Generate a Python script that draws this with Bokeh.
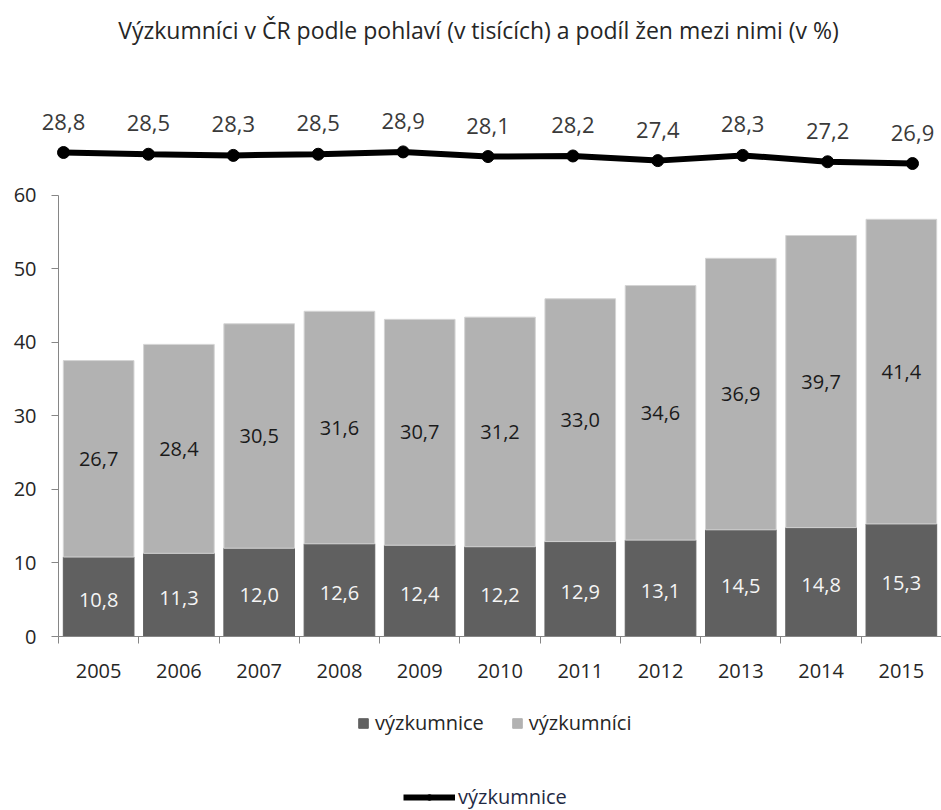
from bokeh.plotting import figure
from bokeh.layouts import column
from bokeh.models import (Range1d, FixedTicker, ColumnDataSource, Legend, LegendItem, Label)
from bokeh.embed import file_html
from bokeh.resources import INLINE
from bokeh.core.properties import value

years = ["2005", "2006", "2007", "2008", "2009", "2010", "2011", "2012", "2013", "2014", "2015"]
women = [10.8, 11.3, 12.0, 12.6, 12.4, 12.2, 12.9, 13.1, 14.5, 14.8, 15.3]
men = [26.7, 28.4, 30.5, 31.6, 30.7, 31.2, 33.0, 34.6, 36.9, 39.7, 41.4]
women_share = [28.8, 28.5, 28.3, 28.5, 28.9, 28.1, 28.2, 27.4, 28.3, 27.2, 26.9]
y_ticks = [0, 10, 20, 30, 40, 50, 60]

title_text = "Výzkumníci v ČR podle pohlaví (v tisících) a podíl žen mezi nimi (v %)"
legend_bar_labels = ["výzkumnice", "výzkumníci"]
legend_line_label = "výzkumnice"

def fmt(v):
    return f"{v:.1f}".replace(".", ",")

n = len(years)
pos = [i + 1 for i in range(n)]
line_pos = list(range(n))

DARK = "#606060"
LIGHT = "#B2B2B2"
FONT = "Open Sans"
W = 941

# ---------------- top figure: title + share line ----------------
HA = 175
pA = figure(width=W, height=HA, output_backend="svg", toolbar_location=None,
            x_range=Range1d(0, W), y_range=Range1d(0, HA),
            x_axis_location=None, y_axis_location=None,
            min_border=0, min_border_left=0, min_border_right=0,
            min_border_top=0, min_border_bottom=0, outline_line_color=None,
            background_fill_color="white", border_fill_color="white")
pA.frame_align = False
pA.grid.visible = False
# line ranges: point 0 at 63 px, 84.9 px per year; 28.8 % at 23 px above bottom, 5.8 px per %
x0 = -63 / 84.9
pA.extra_x_ranges = {"lx": Range1d(x0, x0 + W / 84.9)}
y0 = 28.8 - 23 / 5.8
pA.extra_y_ranges = {"pct": Range1d(y0, y0 + HA / 5.8)}

lsrc = ColumnDataSource(dict(x=line_pos, y=women_share, lab=[fmt(v) for v in women_share]))
pA.line(x="x", y="y", source=lsrc, x_range_name="lx", y_range_name="pct",
        line_color="black", line_width=6)
pA.scatter(x="x", y="y", source=lsrc, x_range_name="lx", y_range_name="pct",
           size=12, fill_color="black", line_color="black")
pA.text(x="x", y="y", text="lab", source=lsrc, x_range_name="lx", y_range_name="pct",
        text_align="center", text_baseline="middle", y_offset=-31,
        text_font=value(FONT), text_font_size="22px", text_color="#3A3A3A")
pA.add_layout(Label(x=478, y=HA - 29, text=title_text, text_align="center",
                    text_baseline="middle", text_font=FONT, text_font_size="23px",
                    text_color="#262626"))

# ---------------- middle figure: stacked bars ----------------
HB = 516
pB = figure(width=W, height=HB, output_backend="svg", toolbar_location=None,
            x_range=Range1d(0.5, n + 0.5), y_range=Range1d(0, 446 / 7.358),
            min_border_left=58, min_border_right=0, min_border_top=15, min_border_bottom=55,
            outline_line_color=None, background_fill_color="white", border_fill_color="white")
pB.frame_align = False
pB.grid.visible = False

src = ColumnDataSource(dict(
    x=pos,
    women=women,
    top=[w + m for w, m in zip(women, men)],
    wmid=[w / 2 for w in women],
    mmid=[w + m / 2 for w, m in zip(women, men)],
    wlab=[fmt(v) for v in women],
    mlab=[fmt(v) for v in men],
))
pB.vbar(x="x", bottom=0, top="women", width=0.88, source=src,
        fill_color=DARK, line_color=DARK)
pB.vbar(x="x", bottom="women", top="top", width=0.88, source=src,
        fill_color=LIGHT, line_color="#D4D4D4", line_width=1)
pB.text(x="x", y="wmid", text="wlab", source=src, text_align="center", text_baseline="middle",
        text_font=value(FONT), text_font_size="20px", text_color="#F5F5F5", y_offset=3)
pB.text(x="x", y="mmid", text="mlab", source=src, text_align="center", text_baseline="middle",
        text_font=value(FONT), text_font_size="20px", text_color="#1A1A1A")

ya = pB.yaxis[0]
ya.ticker = FixedTicker(ticks=y_ticks)
ya.bounds = (0, 60)
ya.axis_line_color = "#868686"
ya.major_tick_line_color = "#868686"
ya.major_tick_out = 7
ya.major_tick_in = 0
ya.minor_tick_out = 0
ya.minor_tick_in = 0
ya.major_label_standoff = 15
ya.major_label_text_font = FONT
ya.major_label_text_font_size = "20px"
ya.major_label_text_color = "#262626"

xa = pB.xaxis[0]
xa.ticker = FixedTicker(ticks=pos, minor_ticks=[i + 0.5 for i in range(n + 1)])
xa.major_label_overrides = {k: y for k, y in zip(pos, years)}
xa.axis_line_color = "#868686"
xa.major_tick_out = 0
xa.major_tick_in = 0
xa.minor_tick_out = 7
xa.minor_tick_in = 0
xa.minor_tick_line_color = "#868686"
xa.major_label_standoff = 20
xa.major_label_text_font = FONT
xa.major_label_text_font_size = "20px"
xa.major_label_text_color = "#262626"

# ---------------- bottom figure: legends ----------------
HC = 810 - HA - HB
pC = figure(width=W, height=HC, output_backend="svg", toolbar_location=None,
            x_range=Range1d(0, W), y_range=Range1d(0, HC),
            x_axis_location=None, y_axis_location=None,
            min_border=0, min_border_left=0, min_border_right=0,
            min_border_top=0, min_border_bottom=0, outline_line_color=None,
            background_fill_color="white", border_fill_color="white")
pC.frame_align = False
pC.grid.visible = False
hidden = ColumnDataSource(dict(x=[-1000], y=[-1000]))
lw = pC.vbar(x="x", top="y", width=1, source=hidden, fill_color=DARK, line_color=DARK)
lm = pC.vbar(x="x", top="y", width=1, source=hidden, fill_color=LIGHT, line_color=LIGHT)
ll = pC.line(x="x", y="y", source=hidden, line_color="black", line_width=6)
lc = pC.scatter(x="x", y="y", source=hidden, size=12, fill_color="black", line_color="black")

leg1 = Legend(items=[LegendItem(label=legend_bar_labels[0], renderers=[lw]),
                     LegendItem(label=legend_bar_labels[1], renderers=[lm])],
              orientation="horizontal", location=(357, 74),
              glyph_width=12, glyph_height=12, label_standoff=6, spacing=27,
              padding=0, margin=0, border_line_color=None, background_fill_alpha=0,
              label_text_font=FONT, label_text_font_size="20px", label_text_color="#262626")
leg2 = Legend(items=[LegendItem(label=legend_line_label, renderers=[ll, lc])],
              orientation="horizontal", location=(403, 0),
              glyph_width=52, glyph_height=14, label_standoff=3,
              padding=0, margin=0, border_line_color=None, background_fill_alpha=0,
              label_text_font=FONT, label_text_font_size="20px", label_text_color="#1F2A44")
pC.add_layout(leg1, "center")
pC.add_layout(leg2, "center")

layout = column(pA, pB, pC, spacing=0)
open("out.html", "w").write(file_html(layout, INLINE))
